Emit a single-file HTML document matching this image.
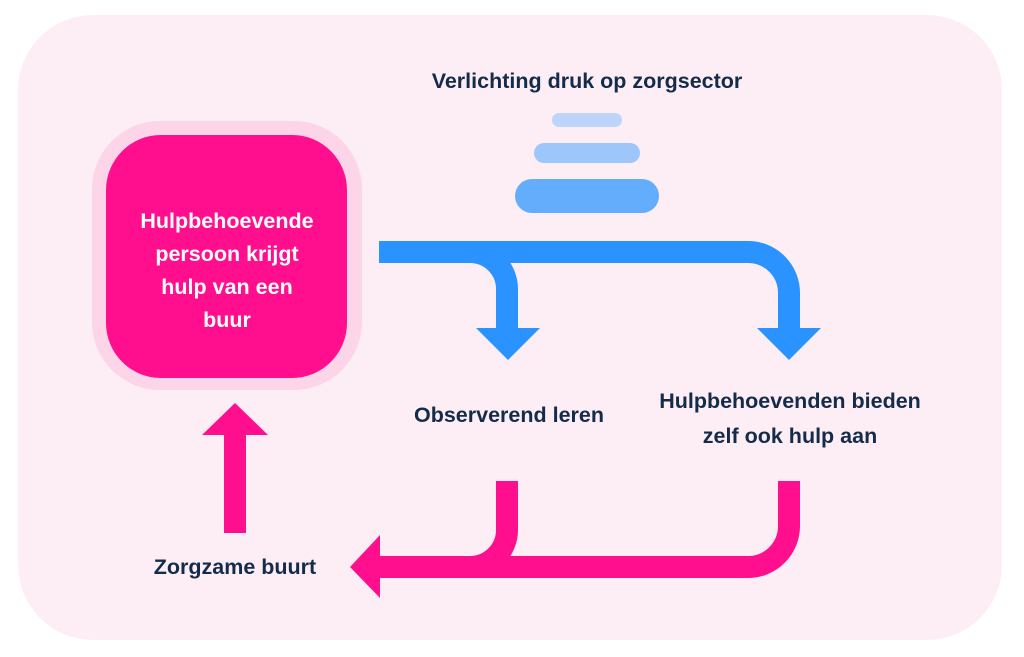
<!DOCTYPE html>
<html><head><meta charset="utf-8"><style>
html,body{margin:0;padding:0;background:#fff;}
svg{display:block}
text{font-family:"Liberation Sans",sans-serif;font-weight:bold;}
</style></head><body>
<svg width="1024" height="657" viewBox="0 0 1024 657" xmlns="http://www.w3.org/2000/svg">
<rect x="18" y="15" width="984" height="625" rx="75" fill="#fdeef6"/>
<rect x="92" y="121" width="270" height="269" rx="68" fill="#fdd5e8"/>
<rect x="106" y="135" width="241" height="243" rx="55" fill="#ff0f8d"/>
<g fill="#fff" font-size="21.5" text-anchor="middle">
<text x="227" y="228">Hulpbehoevende</text>
<text x="227" y="261">persoon krijgt</text>
<text x="227" y="294">hulp van een</text>
<text x="227" y="327">buur</text>
</g>
<g fill="#142c4a" font-size="21.5" text-anchor="middle">
<text x="587" y="88">Verlichting druk op zorgsector</text>
<text x="509" y="422">Observerend leren</text>
<text x="790" y="408">Hulpbehoevenden bieden</text>
<text x="790" y="443">zelf ook hulp aan</text>
<text x="235" y="574">Zorgzame buurt</text>
</g>
<rect x="552" y="113" width="70" height="14" rx="7" fill="#bdd5fb"/>
<rect x="534" y="143" width="106" height="20" rx="10" fill="#9dc7fb"/>
<rect x="515" y="179" width="144" height="34" rx="17" fill="#64adfc"/>
<g fill="none" stroke="#2a93ff" stroke-width="22">
<path d="M379 252 H748 A41 41 0 0 1 789 293 V330"/>
<path d="M470 252 A37 37 0 0 1 507 289 V330"/>
</g>
<polygon points="476,328 540,328 508,360" fill="#2a93ff"/>
<polygon points="757,328 821,328 789,360" fill="#2a93ff"/>
<g fill="none" stroke="#ff0f8d" stroke-width="22">
<path d="M789 481 V526 A41 41 0 0 1 748 567 H378"/>
<path d="M507 481 V530 A37 37 0 0 1 470 567"/>
<path d="M235 533 V430"/>
</g>
<polygon points="350,567 380,535 380,598" fill="#ff0f8d"/>
<polygon points="202,435 268,435 235,403" fill="#ff0f8d"/>
</svg>
</body></html>
